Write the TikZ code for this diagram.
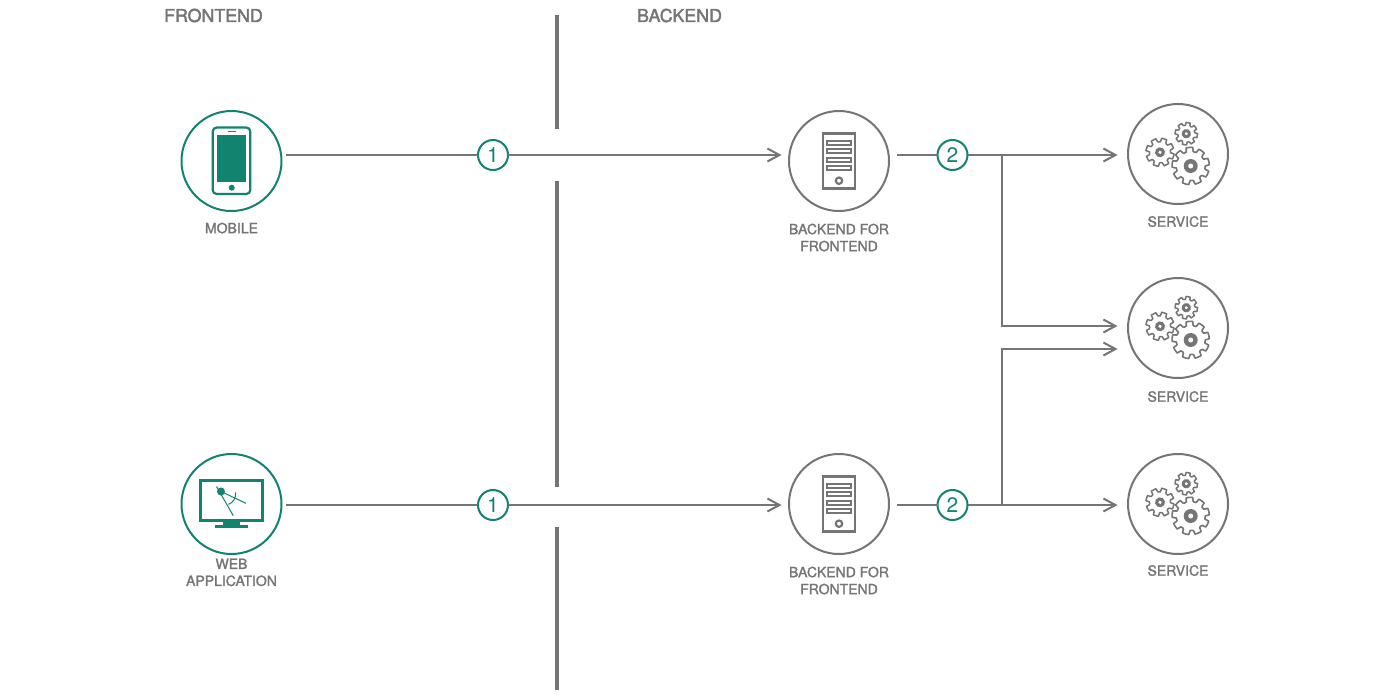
\documentclass[tikz,border=0pt]{standalone}
\usepackage{fontspec}
\setmainfont{TeX Gyre Heros}
\newfontfamily\lblfont[RawFeature={embolden=1.6}]{TeX Gyre Heros}
\newfontfamily\headfont[RawFeature={embolden=2.2}]{TeX Gyre Heros}
\usetikzlibrary{arrows.meta,positioning}
\definecolor{tealc}{HTML}{12836E}
\definecolor{grayc}{HTML}{757575}
\newcommand{\gearteeth}[5]{%
  \foreach \i in {1,...,#1} {
    [rotate=(\i-1)*360/#1] (0:#2) arc (0:#4:#2) -- (#4+#5:#3) arc (#4+#5:360/#1-#5:#3) -- (360/#1:#2)
  }}
\tikzset{
  ring/.style={draw=grayc,line width=2pt,circle,minimum size=100pt,inner sep=0pt,outer sep=0pt},
  tealring/.style={ring,draw=tealc},
  badge/.style={draw=tealc,line width=2pt,circle,fill=white,minimum size=30pt,inner sep=0pt,outer sep=0pt,text=tealc,font=\fontsize{21}{21}\selectfont},
  lbl/.style={text=grayc,align=center,inner sep=0pt,font=\lblfont\fontsize{14}{17}\selectfont},
  heading/.style={text=grayc,inner sep=0pt,font=\headfont\fontsize{17.8}{20}\selectfont},
  wire/.style={draw=grayc,line width=2pt},
  thickwire/.style={draw=grayc,line width=2.6pt},
  wirearrow/.style={wire,-{Straight Barb[length=12pt,width=13pt]}},
  bar/.style={draw=grayc,line width=3.5pt},
  server/.pic={
    \draw[grayc,line width=2.5pt] (-16,-27.5) rectangle (16,27.5);
    \foreach \ypos in {-20,-12,-3.5,5}
      \draw[grayc,line width=2pt] (-12,\ypos) rectangle (12,\ypos+4);
    \draw[grayc,line width=2.2pt] (0,19.7) circle (3.2);
  },
  gears/.pic={
    \begin{scope}[shift={(12.7,12)}]
      \draw[grayc,line width=1.6pt,line join=round,fill=white] \gearteeth{9}{14.5}{18.7}{12}{4};
      \fill[grayc] (0,0) circle (7);
      \fill[white] (0,0) circle (2.5);
    \end{scope}
    \begin{scope}[shift={(-18,-1.7)},rotate=12]
      \draw[grayc,line width=1.5pt,line join=round,fill=white] \gearteeth{8}{10.5}{14.2}{14}{5};
      \fill[grayc] (0,0) circle (5);
      \fill[white] (0,0) circle (1.8);
    \end{scope}
    \begin{scope}[shift={(8.3,-20.3)},rotate=20]
      \draw[grayc,line width=1.5pt,line join=round,fill=white] \gearteeth{8}{8.5}{11.3}{14}{5};
      \fill[grayc] (0,0) circle (4.7);
      \fill[white] (0,0) circle (1.6);
    \end{scope}
  }
}
\begin{document}
\begin{tikzpicture}[x=1pt,y=-1pt]
\useasboundingbox (0,0) rectangle (1377,697);
\fill[white] (0,0) rectangle (1377,697);
\node[heading] (frontendhead) at (213.5,15.5) {FRONTEND};
\node[heading] (backendhead) at (679.5,15.5) {BACKEND};
% dividing bar
\draw[bar] (557,15)--(557,129);
\draw[bar] (557,181)--(557,487);
\draw[bar] (557,527)--(557,690);
% clients
\node[tealring] (mobile) at (231.5,161) {};
\node[tealring] (webapp) at (231.5,504) {};
\node[lbl,below=11.5pt of mobile] (mobilelbl) {MOBILE};
\node[lbl,below=4.5pt of webapp] (webapplbl) {WEB\\APPLICATION};
\draw[tealc,line width=2.2pt,rounded corners=4pt] (212.7,127.5) rectangle (250.3,194);
\fill[tealc] (217,134.7) rectangle (246,182.3);
\draw[tealc,line width=1.2pt] (227.7,131.3)--(235.7,131.3);
\fill[tealc] (231.7,187.7) circle (3);
\draw[tealc,line width=3pt] (200.5,480.5) rectangle (262.5,520);
\fill[tealc] (223.3,520) rectangle (240,525.5);
\fill[tealc] (215,525) rectangle (248.3,528);
\fill[tealc] (221,491.5) circle (4);
\draw[tealc,line width=1pt] (216.5,486.5)--(233.3,515.7);
\draw[tealc,line width=1pt] (221,491.5)--(246,503.3);
\draw[tealc,line width=1pt] (228.3,504.3) .. controls (233,503) and (236,498) .. (235.7,492.3);
% backends
\node[ring] (bfftop) at (839,161) {};
\node[ring] (bffbot) at (839,504) {};
\pic at (bfftop) {server};
\pic at (bffbot) {server};
\node[lbl,below=12.5pt of bfftop] (bfftoplbl) {BACKEND FOR\\FRONTEND};
\node[lbl,below=12.5pt of bffbot] (bffbotlbl) {BACKEND FOR\\FRONTEND};
% services
\node[ring] (svctop) at (1178,154) {};
\node[ring] (svcmid) at (1178,328) {};
\node[ring] (svcbot) at (1178,504) {};
\pic at (svctop) {gears};
\pic at (svcmid) {gears};
\pic at (svcbot) {gears};
\node[lbl,below=12pt of svctop] (svctoplbl) {SERVICE};
\node[lbl,below=13pt of svcmid] (svcmidlbl) {SERVICE};
\node[lbl,below=11pt of svcbot] (svcbotlbl) {SERVICE};
% connectors
\node[badge] (onetop) at (493,155) {1};
\node[badge] (onebot) at (493,505) {1};
\node[badge] (twotop) at (952.5,155) {2};
\node[badge] (twobot) at (952.5,505) {2};
\coordinate (jointop) at (1002,155);
\coordinate (joinbot) at (1002,505);
\coordinate (inmidA) at (1128,326);
\coordinate (inmidB) at (1128,349);
\draw[wire,shorten <=4.5pt] (mobile.east |- onetop)--(onetop);
\draw[wire,shorten <=4.5pt] (webapp.east |- onebot)--(onebot);
\draw[wirearrow,shorten >=7.5pt] (onetop)--(bfftop.west |- onetop);
\draw[wirearrow,shorten >=7.5pt] (onebot)--(bffbot.west |- onebot);
\draw[thickwire,shorten <=8pt] (bfftop.east |- twotop)--(twotop);
\draw[thickwire,shorten <=8pt] (bffbot.east |- twobot)--(twobot);
\draw[thickwire] (twotop)--(jointop);
\draw[thickwire] (twobot)--(joinbot);
\draw[wirearrow,shorten >=10.5pt] (jointop)--(svctop.west |- jointop);
\draw[wirearrow,shorten >=10.5pt] (joinbot)--(svcbot.west |- joinbot);
\draw[wirearrow,shorten >=10.5pt] (jointop)--(jointop |- inmidA)--(inmidA);
\draw[wirearrow,shorten >=10.5pt] (joinbot)--(joinbot |- inmidB)--(inmidB);
\end{tikzpicture}
\end{document}
